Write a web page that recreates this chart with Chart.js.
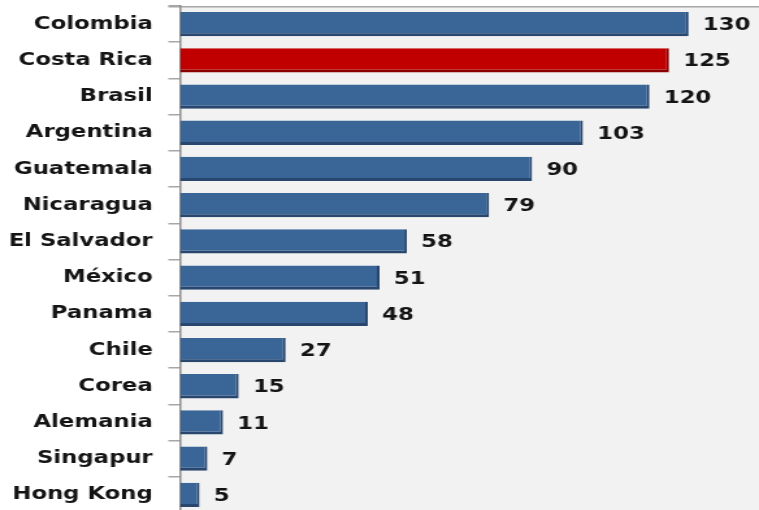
<!DOCTYPE html>
<html>
<head>
<meta charset="utf-8">
<script src="https://cdn.jsdelivr.net/npm/chart.js@4.4.1/dist/chart.umd.min.js"></script>
<style>
  html, body { margin: 0; padding: 0; background: #fff; overflow: hidden; }
  #chart { display: block; }
</style>
</head>
<body>
<canvas id="chart" width="584" height="513" style="width:759px;height:513px"></canvas>
<script>
const countries = ['Colombia', 'Costa Rica', 'Brasil', 'Argentina', 'Guatemala', 'Nicaragua',
  'El Salvador', 'México', 'Panama', 'Chile', 'Corea', 'Alemania', 'Singapur', 'Hong Kong'];
const values = [130, 125, 120, 103, 90, 79, 58, 51, 48, 27, 15, 11, 7, 5];
const highlighted = 'Costa Rica';

const fontFamily = '"DejaVu Sans", Verdana, sans-serif';

// Grey plot background behind the bars, with a rule along its top edge
const plotBackground = {
  id: 'plotBackground',
  beforeDraw(chart) {
    const { ctx, chartArea } = chart;
    ctx.save();
    ctx.fillStyle = '#f2f2f2';
    ctx.fillRect(chartArea.left, chartArea.top, chartArea.right - chartArea.left, chartArea.bottom - chartArea.top);
    ctx.strokeStyle = '#a6a6a6';
    ctx.lineWidth = 1.5;
    ctx.beginPath();
    ctx.moveTo(chartArea.left - 9, chartArea.top + 0.75);
    ctx.lineTo(chartArea.right, chartArea.top + 0.75);
    ctx.stroke();
    ctx.restore();
  }
};

// Value printed to the right of every bar
const valueLabels = {
  id: 'valueLabels',
  afterDatasetsDraw(chart) {
    const { ctx } = chart;
    const meta = chart.getDatasetMeta(0);
    ctx.save();
    ctx.fillStyle = '#141414';
    ctx.font = 'bold 17.5px ' + fontFamily;
    ctx.textAlign = 'left';
    ctx.textBaseline = 'middle';
    meta.data.forEach((bar, i) => {
      ctx.fillText(values[i], bar.x + 11, bar.y + 1.5);
    });
    ctx.restore();
  }
};

new Chart(document.getElementById('chart'), {
  type: 'bar',
  data: {
    labels: countries,
    datasets: [{
      data: values,
      backgroundColor: countries.map(c => c === highlighted ? '#c00000' : '#3a6597'),
      borderColor: countries.map(c => c === highlighted ? '#8a0000' : '#29476e'),
      borderWidth: { top: 0, right: 2, bottom: 3, left: 0 },
      borderSkipped: false,
      barPercentage: 0.67,
      categoryPercentage: 1
    }]
  },
  options: {
    indexAxis: 'y',
    responsive: false,
    animation: false,
    devicePixelRatio: 1,
    layout: { padding: { top: 6, right: 0, bottom: 0, left: 0 } },
    plugins: {
      legend: { display: false },
      tooltip: { enabled: false }
    },
    scales: {
      x: { display: false, min: 0, max: 148 },
      y: {
        position: 'left',
        grid: {
          offset: true,
          drawOnChartArea: false,
          tickColor: '#a6a6a6',
          tickLength: 9,
          lineWidth: 1.5
        },
        border: { display: true, color: '#8c8c8c', width: 1.5 },
        ticks: {
          color: '#141414',
          padding: 12,
          font: { family: fontFamily, size: 17.5, weight: 'bold' }
        },
        afterFit(scale) {
          scale.width = 138.5;
          scale.paddingTop = 0;
          scale.paddingBottom = 0;
        }
      }
    }
  },
  plugins: [plotBackground, valueLabels]
});
</script>
</body>
</html>
